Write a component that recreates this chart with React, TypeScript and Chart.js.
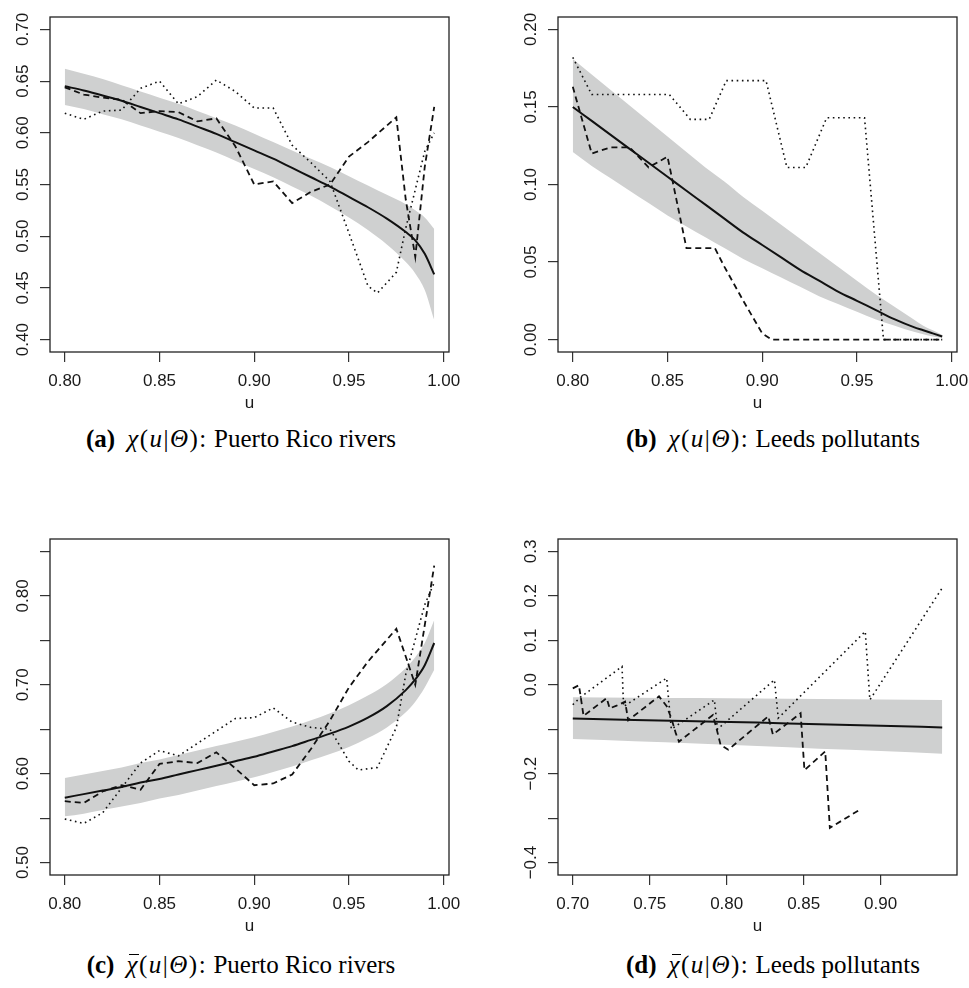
import React, { useEffect, useRef } from 'react';
import { Chart, registerables } from 'chart.js';

Chart.register(...registerables);

const SANS = '"Liberation Sans", Arial, Helvetica, sans-serif';
const SERIF = '"Liberation Serif", "Times New Roman", serif';

// ---------- Puerto Rico rivers (panels a, c) ----------
const uGrid = [0.80, 0.81, 0.82, 0.83, 0.84, 0.85, 0.86, 0.87, 0.88, 0.89, 0.90, 0.91, 0.92, 0.93, 0.94, 0.95, 0.96, 0.97, 0.98, 0.985, 0.99, 0.995];

const fitA = [0.645, 0.641, 0.636, 0.631, 0.625, 0.619, 0.613, 0.606, 0.599, 0.591, 0.583, 0.575, 0.566, 0.557, 0.548, 0.538, 0.528, 0.517, 0.504, 0.496, 0.483, 0.463];
const upperA = [0.662, 0.657, 0.652, 0.646, 0.640, 0.634, 0.628, 0.621, 0.614, 0.607, 0.599, 0.591, 0.583, 0.575, 0.567, 0.558, 0.549, 0.540, 0.531, 0.525, 0.518, 0.507];
const lowerA = [0.627, 0.623, 0.618, 0.613, 0.607, 0.601, 0.595, 0.588, 0.581, 0.573, 0.565, 0.557, 0.548, 0.539, 0.529, 0.518, 0.506, 0.492, 0.475, 0.464, 0.448, 0.419];
const uDashA = [0.80, 0.81, 0.82, 0.83, 0.84, 0.85, 0.86, 0.87, 0.88, 0.89, 0.90, 0.91, 0.92, 0.93, 0.94, 0.95, 0.96, 0.97, 0.975, 0.98, 0.985, 0.99, 0.995];
const dashA = [0.644, 0.637, 0.634, 0.632, 0.619, 0.621, 0.620, 0.611, 0.614, 0.587, 0.550, 0.553, 0.532, 0.543, 0.550, 0.577, 0.591, 0.607, 0.615, 0.535, 0.480, 0.567, 0.625];
const uDotA = [0.80, 0.81, 0.82, 0.83, 0.84, 0.85, 0.86, 0.87, 0.88, 0.89, 0.90, 0.91, 0.92, 0.93, 0.94, 0.95, 0.96, 0.965, 0.97, 0.975, 0.98, 0.99, 0.995];
const dotA = [0.619, 0.613, 0.621, 0.622, 0.643, 0.650, 0.628, 0.635, 0.651, 0.640, 0.624, 0.624, 0.588, 0.571, 0.553, 0.503, 0.452, 0.445, 0.455, 0.465, 0.508, 0.582, 0.600];

const fitC = [0.573, 0.577, 0.581, 0.585, 0.590, 0.594, 0.599, 0.604, 0.609, 0.614, 0.619, 0.625, 0.631, 0.638, 0.645, 0.653, 0.663, 0.676, 0.694, 0.706, 0.722, 0.747];
const upperC = [0.595, 0.599, 0.603, 0.607, 0.612, 0.616, 0.621, 0.626, 0.631, 0.636, 0.641, 0.647, 0.653, 0.660, 0.668, 0.677, 0.688, 0.701, 0.719, 0.731, 0.747, 0.773];
const lowerC = [0.552, 0.555, 0.559, 0.563, 0.567, 0.572, 0.576, 0.581, 0.586, 0.591, 0.596, 0.602, 0.608, 0.615, 0.622, 0.630, 0.640, 0.652, 0.669, 0.681, 0.697, 0.717];
const uDashC = [0.80, 0.81, 0.82, 0.83, 0.84, 0.85, 0.86, 0.87, 0.88, 0.89, 0.90, 0.91, 0.92, 0.93, 0.94, 0.95, 0.96, 0.975, 0.985, 0.995];
const dashC = [0.569, 0.567, 0.580, 0.587, 0.582, 0.611, 0.614, 0.612, 0.624, 0.606, 0.587, 0.589, 0.599, 0.628, 0.660, 0.697, 0.726, 0.763, 0.700, 0.834];
const uDotC = [0.80, 0.81, 0.82, 0.83, 0.84, 0.85, 0.86, 0.87, 0.88, 0.89, 0.90, 0.91, 0.92, 0.93, 0.94, 0.95, 0.955, 0.965, 0.975, 0.98, 0.99, 0.995];
const dotC = [0.549, 0.544, 0.556, 0.584, 0.612, 0.626, 0.620, 0.634, 0.648, 0.662, 0.663, 0.674, 0.658, 0.652, 0.650, 0.614, 0.604, 0.607, 0.652, 0.712, 0.790, 0.815];

// ---------- Leeds pollutants (panels b, d) ----------
const fitB = [0.150, 0.141, 0.132, 0.123, 0.114, 0.105, 0.096, 0.087, 0.078, 0.069, 0.061, 0.053, 0.045, 0.038, 0.031, 0.025, 0.019, 0.013, 0.008, 0.006, 0.004, 0.002];
const upperB = [0.181, 0.171, 0.161, 0.151, 0.141, 0.131, 0.121, 0.111, 0.102, 0.092, 0.083, 0.074, 0.065, 0.056, 0.047, 0.038, 0.029, 0.021, 0.013, 0.009, 0.006, 0.003];
const lowerB = [0.121, 0.112, 0.104, 0.096, 0.088, 0.080, 0.073, 0.066, 0.059, 0.052, 0.046, 0.040, 0.034, 0.028, 0.023, 0.018, 0.013, 0.009, 0.005, 0.0035, 0.002, 0.001];
const uDashB = [0.80, 0.81, 0.82, 0.83, 0.84, 0.85, 0.86, 0.87, 0.875, 0.88, 0.89, 0.90, 0.905, 0.995];
const dashB = [0.163, 0.120, 0.124, 0.124, 0.111, 0.118, 0.059, 0.059, 0.059, 0.047, 0.025, 0.004, 0.000, 0.000];
const uDotB = [0.80, 0.81, 0.851, 0.862, 0.872, 0.881, 0.902, 0.913, 0.923, 0.934, 0.954, 0.964, 0.995];
const dotB = [0.182, 0.158, 0.158, 0.142, 0.142, 0.167, 0.167, 0.111, 0.111, 0.143, 0.143, 0.000, 0.000];

const uD = [0.70, 0.74, 0.78, 0.82, 0.86, 0.90, 0.94];
const fitD = [-0.076, -0.079, -0.082, -0.085, -0.089, -0.092, -0.096];
const upperD = [-0.028, -0.029, -0.030, -0.031, -0.032, -0.033, -0.034];
const lowerD = [-0.122, -0.127, -0.132, -0.138, -0.144, -0.149, -0.155];
const uDashD = [0.700, 0.704, 0.707, 0.722, 0.724, 0.7285, 0.734, 0.736, 0.756, 0.761, 0.764, 0.767, 0.769, 0.791, 0.7935, 0.796, 0.801, 0.827, 0.830, 0.848, 0.8505, 0.864, 0.867, 0.886];
const dashD = [-0.008, -0.001, -0.070, -0.030, -0.053, -0.047, -0.038, -0.080, -0.026, -0.048, -0.075, -0.110, -0.128, -0.068, -0.100, -0.135, -0.146, -0.071, -0.112, -0.064, -0.192, -0.150, -0.322, -0.282];
const uDotD = [0.700, 0.705, 0.732, 0.733, 0.761, 0.764, 0.792, 0.794, 0.831, 0.8335, 0.890, 0.893, 0.940];
const dotD = [-0.045, -0.028, 0.041, -0.049, 0.015, -0.100, -0.034, -0.100, 0.011, -0.075, 0.120, -0.034, 0.218];

// ---------- axes ----------
const xTicksPR = [0.80, 0.85, 0.90, 0.95, 1.00];
const xLabelsPR = ['0.80', '0.85', '0.90', '0.95', '1.00'];
const xTicksLeeds = [0.70, 0.75, 0.80, 0.85, 0.90];
const xLabelsLeeds = ['0.70', '0.75', '0.80', '0.85', '0.90'];

const yTicksA = [0.40, 0.45, 0.50, 0.55, 0.60, 0.65, 0.70];
const yLabelsA = ['0.40', '0.45', '0.50', '0.55', '0.60', '0.65', '0.70'];
const yTicksB = [0.00, 0.05, 0.10, 0.15, 0.20];
const yLabelsB = ['0.00', '0.05', '0.10', '0.15', '0.20'];
const yTicksC = [0.50, 0.55, 0.60, 0.65, 0.70, 0.75, 0.80, 0.85];
const yLabelsC = ['0.50', '', '0.60', '', '0.70', '', '0.80', ''];
const yTicksD = [-0.4, -0.3, -0.2, -0.1, 0.0, 0.1, 0.2, 0.3];
const yLabelsD = ['\u22120.4', '', '\u22120.2', '', '0.0', '0.1', '0.2', '0.3'];

const captionTags = ['(a)', '(b)', '(c)', '(d)'];
const captionTexts = ['Puerto Rico rivers', 'Leeds pollutants', 'Puerto Rico rivers', 'Leeds pollutants'];

const BAND = 'rgb(207,208,208)';
const INK = '#111';

type PanelCfg = {
  left: number; top: number; w: number; h: number;
  pad: { left: number; right: number; top: number };
  xMin: number; xMax: number; yMin: number; yMax: number;
  xTicks: number[]; xLabels: string[]; yTicks: number[]; yLabels: string[];
  uBand: number[]; lower: number[]; upper: number[]; fit: number[];
  uDash: number[]; dash: number[]; uDot: number[]; dot: number[];
};

const pts = (xs: number[], ys: number[]) => xs.map((x, i) => ({ x, y: ys[i] }));

const panels: PanelCfg[] = [
  {
    left: 0, top: 0, w: 484, h: 420, pad: { left: 0, right: 35, top: 17 },
    xMin: 0.7922, xMax: 1.0028, yMin: 0.388, yMax: 0.712,
    xTicks: xTicksPR, xLabels: xLabelsPR, yTicks: yTicksA, yLabels: yLabelsA,
    uBand: uGrid, lower: lowerA, upper: upperA, fit: fitA,
    uDash: uDashA, dash: dashA, uDot: uDotA, dot: dotA,
  },
  {
    left: 484, top: 0, w: 500, h: 420, pad: { left: 24, right: 27, top: 17 },
    xMin: 0.7922, xMax: 1.0028, yMin: -0.008, yMax: 0.208,
    xTicks: xTicksPR, xLabels: xLabelsPR, yTicks: yTicksB, yLabels: yLabelsB,
    uBand: uGrid, lower: lowerB, upper: upperB, fit: fitB,
    uDash: uDashB, dash: dashB, uDot: uDotB, dot: dotB,
  },
  {
    left: 0, top: 523, w: 484, h: 420, pad: { left: 0, right: 35, top: 16 },
    xMin: 0.7922, xMax: 1.0028, yMin: 0.486, yMax: 0.864,
    xTicks: xTicksPR, xLabels: xLabelsPR, yTicks: yTicksC, yLabels: yLabelsC,
    uBand: uGrid, lower: lowerC, upper: upperC, fit: fitC,
    uDash: uDashC, dash: dashC, uDot: uDotC, dot: dotC,
  },
  {
    left: 484, top: 523, w: 500, h: 420, pad: { left: 24, right: 27, top: 16 },
    xMin: 0.6904, xMax: 0.9496, yMin: -0.428, yMax: 0.328,
    xTicks: xTicksLeeds, xLabels: xLabelsLeeds, yTicks: yTicksD, yLabels: yLabelsD,
    uBand: uD, lower: lowerD, upper: upperD, fit: fitD,
    uDash: uDashD, dash: dashD, uDot: uDotD, dot: dotD,
  },
];

const boxPlugin = {
  id: 'rbox',
  afterDraw(chart: any) {
    const { ctx, chartArea: a } = chart;
    ctx.save();
    ctx.strokeStyle = '#222';
    ctx.lineWidth = 1.3;
    ctx.strokeRect(a.left, a.top, a.right - a.left, a.bottom - a.top);
    ctx.restore();
  },
};

function Panel({ cfg }: { cfg: PanelCfg }) {
  const ref = useRef<HTMLCanvasElement>(null);
  useEffect(() => {
    const canvas = ref.current;
    if (!canvas) return;
    const tickFont = { family: SANS, size: 17 };
    const gridOpts = { display: true, drawOnChartArea: false, drawTicks: true, tickLength: 10, color: '#333', lineWidth: 1.2 };
    const chart = new Chart(canvas, {
      type: 'line',
      data: {
        datasets: [
          { data: pts(cfg.uBand, cfg.lower), borderColor: 'rgba(0,0,0,0)', borderWidth: 0, pointRadius: 0, fill: false, order: 10, cubicInterpolationMode: 'monotone' },
          { data: pts(cfg.uBand, cfg.upper), borderColor: 'rgba(0,0,0,0)', borderWidth: 0, pointRadius: 0, fill: '-1', backgroundColor: BAND, order: 9, cubicInterpolationMode: 'monotone' },
          { data: pts(cfg.uBand, cfg.fit), borderColor: INK, borderWidth: 2, pointRadius: 0, fill: false, order: 1, cubicInterpolationMode: 'monotone' },
          { data: pts(cfg.uDash, cfg.dash), borderColor: INK, borderWidth: 1.8, borderDash: [6, 4], pointRadius: 0, fill: false, order: 2, tension: 0 },
          { data: pts(cfg.uDot, cfg.dot), borderColor: INK, borderWidth: 1.6, borderDash: [1.6, 3.6], pointRadius: 0, fill: false, order: 3, tension: 0 },
        ] as any,
      },
      options: {
        responsive: false,
        animation: false,
        devicePixelRatio: 1,
        events: [],
        layout: { padding: { left: cfg.pad.left, right: cfg.pad.right, top: cfg.pad.top, bottom: 0 } },
        plugins: { legend: { display: false }, tooltip: { enabled: false } },
        elements: { point: { radius: 0 }, line: { borderCapStyle: 'butt' } },
        scales: {
          x: {
            type: 'linear',
            min: cfg.xMin,
            max: cfg.xMax,
            afterBuildTicks: (s: any) => { s.ticks = cfg.xTicks.map((v) => ({ value: v })); },
            afterFit: (s: any) => { s.height = 68; },
            ticks: {
              autoSkip: false, minRotation: 0, maxRotation: 0, padding: 9,
              font: tickFont, color: '#1a1a1a',
              callback: (_v: any, i: number) => cfg.xLabels[i],
            },
            grid: gridOpts,
            border: { display: false },
            title: { display: true, text: 'u', font: { family: SANS, size: 17 }, color: '#1a1a1a', padding: { top: 0, bottom: 6 } },
          },
          y: {
            type: 'linear',
            min: cfg.yMin,
            max: cfg.yMax,
            afterBuildTicks: (s: any) => { s.ticks = cfg.yTicks.map((v) => ({ value: v })); },
            afterFit: (s: any) => { s.width = 50; },
            ticks: {
              autoSkip: false, minRotation: 90, maxRotation: 90, padding: 0, crossAlign: 'center',
              font: tickFont, color: '#1a1a1a',
              callback: (_v: any, i: number) => cfg.yLabels[i],
            },
            grid: gridOpts,
            border: { display: false },
          },
        },
      } as any,
      plugins: [boxPlugin],
    });
    return () => chart.destroy();
  }, [cfg]);
  return (
    <canvas
      ref={ref}
      width={cfg.w}
      height={cfg.h}
      style={{ position: 'absolute', left: cfg.left, top: cfg.top, width: cfg.w, height: cfg.h }}
    />
  );
}

function Chi({ bar }: { bar: boolean }) {
  if (!bar) return <i>χ</i>;
  return (
    <span style={{ position: 'relative', display: 'inline-block' }}>
      <i>χ</i>
      <span style={{ position: 'absolute', left: 3, right: 0, top: 4, borderTop: '1.4px solid #000' }} />
    </span>
  );
}

function Caption({ idx, cx, cy }: { idx: number; cx: number; cy: number }) {
  return (
    <div
      style={{
        position: 'absolute', left: cx - 250, top: cy - 15, width: 500, height: 30,
        textAlign: 'center', fontFamily: SERIF, fontSize: 25, lineHeight: '30px', color: '#000', whiteSpace: 'nowrap',
      }}
    >
      <b>{captionTags[idx]}</b>
      <span style={{ display: 'inline-block', width: 12 }} />
      <span style={{ letterSpacing: '1.5px' }}>
        <Chi bar={idx >= 2} />(<i>u</i>|<i>Θ</i>):
      </span>{' '}
      {captionTexts[idx]}
    </div>
  );
}

export default function App() {
  return (
    <div style={{ position: 'absolute', left: 0, top: 0, width: 969, height: 988, overflow: 'hidden', background: '#fff' }}>
      {panels.map((p, i) => (
        <Panel key={i} cfg={p} />
      ))}
      <Caption idx={0} cx={241} cy={439} />
      <Caption idx={1} cx={773} cy={439} />
      <Caption idx={2} cx={241} cy={965} />
      <Caption idx={3} cx={773} cy={965} />
    </div>
  );
}
